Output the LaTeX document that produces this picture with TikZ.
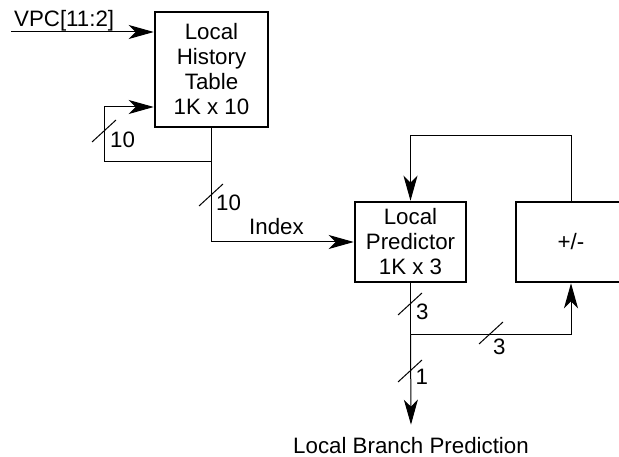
\documentclass[tikz,border=0pt]{standalone}
\usepackage{fontspec}
\setmainfont{Liberation Sans}
\usetikzlibrary{arrows.meta}

\begin{document}
\begin{tikzpicture}[x=1pt, y=-1pt,
  font=\fontsize{22.3}{25}\selectfont,
  blk/.style={draw, line width=2.5pt, align=center, inner sep=0pt},
  wire/.style={line width=1pt},
  arr/.style={wire, -{Stealth[length=25pt, width=14pt, inset=7pt]}},
  lbl/.style={inner sep=0pt}]
\useasboundingbox (0,0) rectangle (619,457);
\clip (0,0) rectangle (619,457);
\node[blk, minimum width=113pt, minimum height=115pt] (lht) at (211.5,69.5) {Local\\History\\Table\\1K x 10};
\node[blk, minimum width=111pt, minimum height=80pt] (lp) at (410.5,242) {Local\\Predictor\\1K x 3};
\node[blk, minimum width=110pt, minimum height=80pt] (pm) at (571,242) {+/-};
\node[lbl, anchor=base west] (vpc) at (14,27) {VPC[11:2]};
\node[lbl, anchor=base west] (idx) at (249,235) {Index};
\node[lbl, anchor=base] (out) at (411,453) {Local Branch Prediction};
\coordinate (vin) at (11,32);
\coordinate (fb) at (104,107);
\path (lht.south) ++(0,33) coordinate (j1);
\path (lp.south) ++(0,51) coordinate (j2);
\draw[arr] (vin) -- (vin -| lht.west);
\draw[wire] (lht.south) -- (j1);
\draw[arr] (j1) -| (fb) -- (fb -| lht.west);
\draw[arr] (j1) |- (lp.west);
\draw[arr] (pm.north) -- ++(0,-65) -| (lp.north);
\draw[wire] (lp.south) -- (j2);
\draw[arr] (j2) -- ([yshift=12pt]out.north);
\draw[arr] (j2) -| (pm.south);
\foreach \x/\y in {104/131, 211/195, 410/304, 491/333, 410/371}
  \draw[wire] (\x-12,\y+11) -- (\x+12,\y-11);
\node[lbl, anchor=west] (w1) at (110,140) {10};
\node[lbl, anchor=west] (w2) at (216,202.5) {10};
\node[lbl, anchor=west] (w3) at (416,311.5) {3};
\node[lbl, anchor=west] (w4) at (493,347) {3};
\node[lbl, anchor=west] (w5) at (415.5,377) {1};
\end{tikzpicture}
\end{document}
